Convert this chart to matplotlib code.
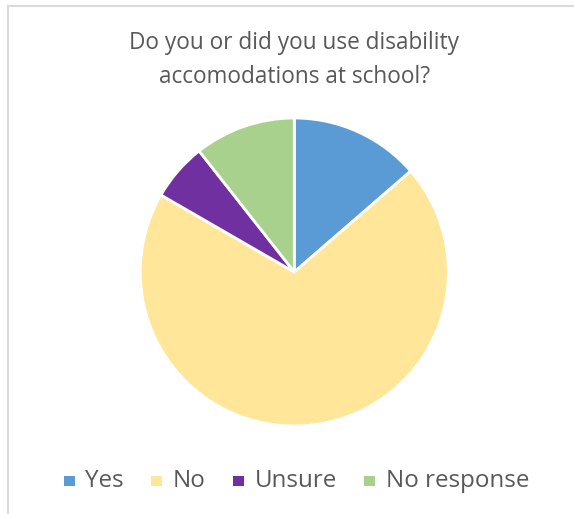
import matplotlib
matplotlib.use("Agg")
import matplotlib.pyplot as plt
from matplotlib.patches import Rectangle
from matplotlib.lines import Line2D

categories = ["Yes", "No", "Unsure", "No response"]
counts = [9, 46, 4, 7]
colors = ["#5B9BD5", "#FFE699", "#7030A0", "#A9D18E"]
title = "Do you or did you use disability\naccomodations at school?"

W, H = 574, 514
fig = plt.figure(figsize=(W / 100, H / 100), dpi=100)
fig.patch.set_facecolor("white")

# thin frame along the top and left edges
fig.add_artist(Line2D([7.5 / W, 7.5 / W], [0, 1 - 5.5 / H], color="#D9D9D9", lw=1.5))
fig.add_artist(Line2D([7.5 / W, 1], [1 - 5.5 / H, 1 - 5.5 / H], color="#D9D9D9", lw=1.5))

# pie area
cx, cy, r = 294.3, 272.0, 154.0
ax = fig.add_axes([(cx - r) / W, (H - cy - r) / H, 2 * r / W, 2 * r / H])
ax.pie(counts, colors=colors, startangle=90, counterclock=False, radius=1.0,
       wedgeprops=dict(edgecolor="white", linewidth=2))
ax.set_xlim(-1, 1)
ax.set_ylim(-1, 1)
ax.set_aspect("equal")
ax.axis("off")

font = ["Open Sans", "DejaVu Sans"]
text_color = "#595959"

fig.text(cx / W, 1 - 60 / H, title, ha="center", va="center", fontsize=16.3,
         color=text_color, family=font, linespacing=1.55)

# legend drawn along the bottom
sq_x = [64, 151, 233, 364]
txt_x = [85, 173, 255, 386]
ly = 481
sq = 10.5
for name, col, sx, tx in zip(categories, colors, sq_x, txt_x):
    fig.add_artist(Rectangle((sx / W, (H - ly - sq / 2) / H), sq / W, sq / H,
                             facecolor=col, edgecolor="none"))
    fig.text(tx / W, 1 - ly / H, name, ha="left", va="center", fontsize=17.4,
             color=text_color, family=font)

fig.savefig("out.png", dpi=100, facecolor="white")
